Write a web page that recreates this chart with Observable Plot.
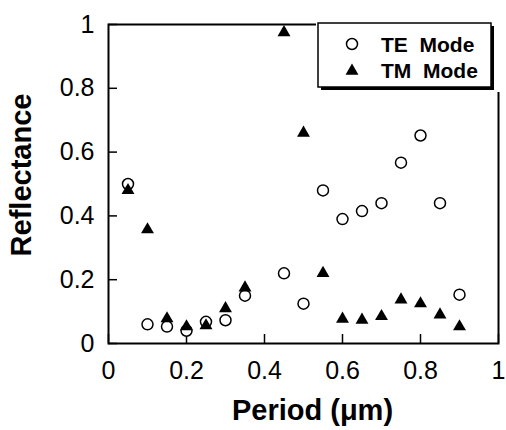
<!DOCTYPE html>
<html><head><meta charset="utf-8">
<script src="https://cdn.jsdelivr.net/npm/d3@7"></script>
<script src="https://cdn.jsdelivr.net/npm/@observablehq/plot@0.6"></script>
<style>
body{margin:0;background:#fff}
svg{font-family:"Liberation Sans",Arial,Helvetica,sans-serif}
</style>
</head><body><div id="chart"></div>
<script>
const period = [0.05,0.1,0.15,0.2,0.25,0.3,0.35,0.45,0.5,0.55,0.6,0.65,0.7,0.75,0.8,0.85,0.9];
const teMode = [0.50,0.06,0.053,0.04,0.068,0.073,0.15,0.22,0.125,0.48,0.39,0.415,0.44,0.567,0.652,0.44,0.153];
const tmMode = [0.48,0.357,0.078,0.053,0.056,0.11,0.175,0.975,0.66,0.22,0.077,0.074,0.085,0.137,0.125,0.09,0.053];
const xTicks = [0,0.2,0.4,0.6,0.8,1];
const yTicks = [0,0.2,0.4,0.6,0.8,1];
const xTitle = "Period (\u03bcm)";
const yTitle = "Reflectance";
const legendLabels = ["TE  Mode","TM  Mode"];

const te = period.map((p,i)=>({period:p, value:teMode[i]}));
const tm = period.map((p,i)=>({period:p, value:tmMode[i]}));
const fmt = d => `${d}`;

const chart = Plot.plot({
  width: 506, height: 430,
  marginLeft: 108, marginRight: 8, marginTop: 24, marginBottom: 87,
  style: {fontFamily: '"Liberation Sans",Arial,sans-serif', fontSize: "25px", color: "#000", background: "#fff"},
  x: {domain: [0,1]},
  y: {domain: [0,1]},
  marks: [
    Plot.frame({stroke: "#000", strokeWidth: 2}),
    Plot.axisX({ticks: xTicks, tickFormat: fmt, tickSize: -9, tickPadding: 27, strokeWidth: 1.5, label: null, fontSize: 25}),
    Plot.axisY({ticks: yTicks, tickFormat: fmt, tickSize: -9, tickPadding: 23, strokeWidth: 1.5, label: null, fontSize: 25}),
    Plot.dot(te, {x: "period", y: "value", r: 5.5, stroke: "#000", strokeWidth: 1.5, fill: "#fff"}),
    Plot.dot(tm, {x: "period", y: "value", symbol: "triangle", r: 4.8, fill: "#000", stroke: "none"}),
    Plot.text([xTitle], {frameAnchor: "bottom", textAnchor: "middle", lineAnchor: "middle", dx: 9, dy: 67, fontWeight: "bold", fontSize: 29, fill: "#000"}),
    Plot.text([yTitle], {frameAnchor: "left", textAnchor: "middle", lineAnchor: "middle", rotate: -90, dx: -87, dy: -9, fontWeight: "bold", fontSize: 29, fill: "#000"})
  ]
});
document.getElementById("chart").appendChild(chart);

// legend inside plot (top-right)
const svg = d3.select(chart);
const g = svg.append("g");
g.append("rect").attr("x",316).attr("y",20).attr("width",186).attr("height",72).attr("fill","#fff");
g.append("rect").attr("x",321).attr("y",26).attr("width",173).attr("height",64).attr("fill","#000");
g.append("rect").attr("x",318).attr("y",23).attr("width",173).attr("height",64).attr("fill","#fff").attr("stroke","#000").attr("stroke-width",1.5);
g.append("circle").attr("cx",352).attr("cy",44).attr("r",5.5).attr("fill","#fff").attr("stroke","#000").attr("stroke-width",1.5);
g.append("path").attr("transform","translate(352,71)").attr("d", d3.symbol(d3.symbolTriangle, Math.PI*4.8*4.8)()).attr("fill","#000");
legendLabels.forEach((t,i)=>{
  g.append("text").attr("x",381).attr("y",52+i*26).attr("text-anchor","start").attr("xml:space","preserve").style("white-space","pre")
    .attr("font-size",21).attr("font-weight","bold").attr("fill","#000").text(t);
});
</script>
</body></html>
